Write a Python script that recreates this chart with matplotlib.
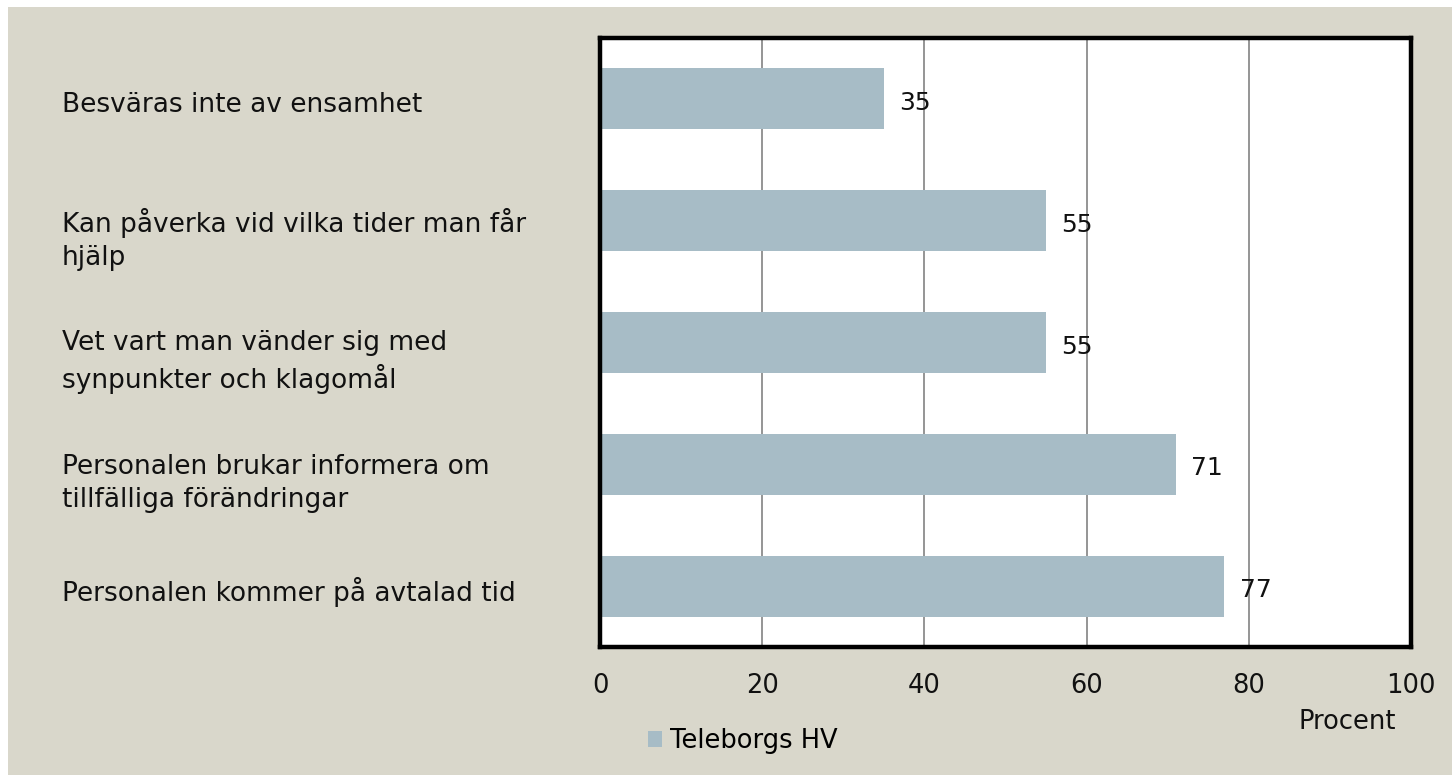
import matplotlib
matplotlib.use("Agg")
import matplotlib.pyplot as plt
import matplotlib.transforms as mtransforms
from matplotlib.patches import Rectangle

categories = [
    "Besväras inte av ensamhet",
    "Kan påverka vid vilka tider man får\nhjälp",
    "Vet vart man vänder sig med\nsynpunkter och klagomål",
    "Personalen brukar informera om\ntillfälliga förändringar",
    "Personalen kommer på avtalad tid",
]
values = [35, 55, 55, 71, 77]
series_name = "Teleborgs HV"
xticks = [0, 20, 40, 60, 80, 100]
xlabel = "Procent"

bar_color = "#A7BCC6"
bg_color = "#D9D7CB"
W, H = 1452, 775

plt.rcParams["font.family"] = ["DejaVu Sans"]
fig = plt.figure(figsize=(W / 100, H / 100), dpi=100, facecolor="white")
fig.patches.append(Rectangle((8 / W, 0), 1 - 8 / W, 1 - 7 / H, transform=fig.transFigure,
                             facecolor=bg_color, edgecolor="none", zorder=-10))

ax = fig.add_axes([600 / W, 1 - 647 / H, 811 / W, 609 / H])
ax.set_facecolor("white")
ypos = list(range(len(categories)))
bars = ax.barh(ypos, values, height=0.5, color=bar_color, zorder=2, label=series_name)
ax.set_xlim(0, 100)
ax.set_ylim(len(categories) - 0.5, -0.5)
ax.set_xticks(xticks)
ax.set_xticklabels([str(t) for t in xticks], fontsize=18.5, color="#111111")
ax.tick_params(axis="x", length=0, pad=19)
ax.set_yticks([])
ax.grid(axis="x", color="#8C8C8C", linewidth=1.3, zorder=1)
for s in ax.spines.values():
    s.set_linewidth(3.2)
    s.set_color("black")

for i, v in enumerate(values):
    ax.annotate(str(v), xy=(v, i), xytext=(11, -3), textcoords="offset points",
                ha="left", va="center", fontsize=18, color="#111111", zorder=3)

trans = mtransforms.blended_transform_factory(fig.transFigure, ax.transData)
for i, c in enumerate(categories):
    dy = -2 if "\n" not in c else -9
    offs = mtransforms.ScaledTranslation(0, dy / 72, fig.dpi_scale_trans)
    ax.text(62 / W, i, c, transform=trans + offs, ha="left", va="center_baseline",
            fontsize=19, color="#111111", linespacing=1.35)

ax.set_xlabel(xlabel, fontsize=18.5, color="#111111")
ax.xaxis.set_label_coords((1347 - 600) / 811, -(722 - 647) / 609)
ax.xaxis.label.set_verticalalignment("center")

fig.legend(handles=[bars], labels=[series_name], loc="center left",
           bbox_to_anchor=(648 / W, 1 - 741 / H), frameon=False, fontsize=18.5,
           handlelength=0.55, handleheight=0.55, handletextpad=0.3,
           borderpad=0, borderaxespad=0)

fig.savefig("out.png", dpi=100, facecolor=fig.get_facecolor())
